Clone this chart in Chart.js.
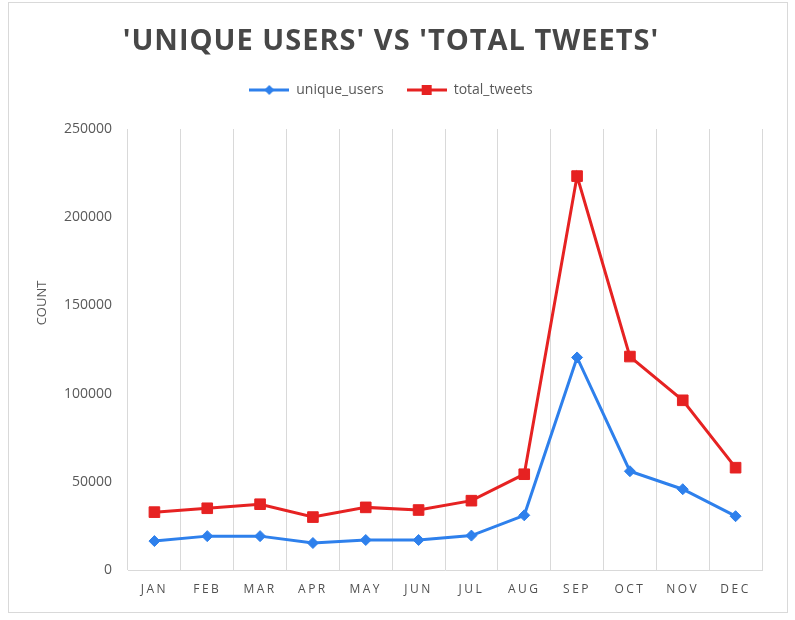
<!DOCTYPE html>
<html>
<head>
<meta charset="utf-8">
<script src="https://cdn.jsdelivr.net/npm/chart.js@4.4.1/dist/chart.umd.min.js"></script>
<style>
  html, body { margin: 0; padding: 0; background: #fff; }
  #wrap { position: relative; width: 795px; height: 620px; }
  #frame {
    position: absolute; left: 8px; top: 2px; width: 778px; height: 609px;
    border: 1px solid #d9d9d9; pointer-events: none;
  }
  canvas { position: absolute; left: 0; top: 0; }
</style>
</head>
<body>
<div id="wrap">
  <canvas id="chart" width="795" height="620"></canvas>
  <div id="frame"></div>
</div>
<script>
// === Datos ===
const months = ["JAN", "FEB", "MAR", "APR", "MAY", "JUN", "JUL", "AUG", "SEP", "OCT", "NOV", "DEC"];
const uniqueUsers = [16400, 19200, 19200, 15300, 17000, 17000, 19500, 31000, 120500, 56000, 45800, 30500];
const totalTweets = [32800, 35000, 37300, 30000, 35500, 34000, 39300, 54300, 223300, 121000, 96200, 58000];
const yMax = 250000;
const yStep = 50000;

document.addEventListener("DOMContentLoaded", () => {
  const colors = {
    blue: "#2e80ec",
    red: "#e62222",
    text: "#595959",
    title: "#474747",
    grid: "#d9d9d9",
  };
  const FONT = "'Open Sans', 'DejaVu Sans', sans-serif";

  // icono de leyenda: linea con marcador
  function legendIcon(color, kind) {
    const c = document.createElement("canvas");
    c.width = 40;
    c.height = 14;
    const g = c.getContext("2d");
    g.strokeStyle = color;
    g.fillStyle = color;
    g.lineWidth = 3;
    g.beginPath();
    g.moveTo(0, 7);
    g.lineTo(40, 7);
    g.stroke();
    if (kind === "rect") {
      g.fillRect(15, 2, 10, 10);
    } else {
      g.beginPath();
      g.moveTo(20, 2);
      g.lineTo(25, 7);
      g.lineTo(20, 12);
      g.lineTo(15, 7);
      g.closePath();
      g.fill();
    }
    return c;
  }

  // espaciado de letras para ticks y titulo
  function withSpacing(obj, fn, sp) {
    if (!obj || obj["_sp_" + fn]) return;
    const orig = obj[fn].bind(obj);
    obj[fn] = function (...args) {
      const ctx = this.ctx;
      const prev = ctx.letterSpacing;
      ctx.letterSpacing = sp;
      orig(...args);
      ctx.letterSpacing = prev;
    };
    obj["_sp_" + fn] = true;
  }

  const spacingPlugin = {
    id: "spacing",
    beforeInit(chart) {
      const fit = chart.legend.fit;
      chart.legend.fit = function () {
        fit.bind(chart.legend)();
        this.height += 22;
      };
    },
    afterLayout(chart) {
      withSpacing(chart.scales.x, "drawLabels", "2.5px");
      withSpacing(chart.titleBlock, "draw", "1px");
    },
  };

  // titulo del eje Y (como en Excel, no centrado en el area)
  const yTitlePlugin = {
    id: "yTitle",
    afterDraw(chart) {
      const ctx = chart.ctx;
      ctx.save();
      ctx.translate(42, 303);
      ctx.rotate(-Math.PI / 2);
      ctx.font = "13px " + FONT;
      ctx.fillStyle = colors.text;
      ctx.textAlign = "center";
      ctx.textBaseline = "middle";
      ctx.fillText("COUNT", 0, 0);
      ctx.restore();
    },
  };

  const ctx = document.getElementById("chart").getContext("2d");

  new Chart(ctx, {
    type: "line",
    data: {
      labels: months,
      datasets: [
        {
          label: "unique_users",
          data: uniqueUsers,
          borderColor: colors.blue,
          backgroundColor: colors.blue,
          borderWidth: 3,
          pointStyle: "rectRot",
          pointRadius: 5.5,
          pointBorderWidth: 1,
          tension: 0,
        },
        {
          label: "total_tweets",
          data: totalTweets,
          borderColor: colors.red,
          backgroundColor: colors.red,
          borderWidth: 3,
          pointStyle: "rect",
          pointRadius: 7.5,
          pointBorderWidth: 1,
          tension: 0,
        },
      ],
    },
    options: {
      responsive: false,
      animation: false,
      layout: { padding: { left: 20, right: 33, top: 0, bottom: 8 } },
      plugins: {
        title: {
          display: true,
          text: "'UNIQUE USERS' VS 'TOTAL TWEETS'",
          color: colors.title,
          font: { family: FONT, size: 29, weight: "bold", lineHeight: 1 },
          padding: { top: 27, bottom: 4 },
        },
        legend: {
          position: "top",
          labels: {
            color: colors.text,
            font: { family: FONT, size: 14 },
            usePointStyle: true,
            pointStyleWidth: 40,
            padding: 23,
            generateLabels: (chart) =>
              chart.data.datasets.map((ds, i) => ({
                text: ds.label,
                fontColor: colors.text,
                pointStyle: legendIcon(ds.borderColor, ds.pointStyle),
                datasetIndex: i,
                hidden: false,
                lineWidth: 0,
              })),
          },
        },
        tooltip: { enabled: false },
      },
      scales: {
        x: {
          offset: true,
          afterFit: (s) => { s.height = 42; },
          grid: { display: true, offset: true, color: colors.grid, drawTicks: false },
          border: { display: true, color: colors.grid },
          ticks: {
            color: "#505050",
            font: { family: FONT, size: 12 },
            padding: 12,
          },
        },
        y: {
          min: 0,
          max: yMax,
          afterFit: (s) => { s.width = 108; },
          grid: { display: false, drawTicks: false },
          border: { display: false },
          ticks: {
            stepSize: yStep,
            color: colors.text,
            font: { family: FONT, size: 14 },
            padding: 16,
            callback: (v) => String(v),
          },
        },
      },
    },
    plugins: [spacingPlugin, yTitlePlugin],
  });
});
</script>
</body>
</html>
